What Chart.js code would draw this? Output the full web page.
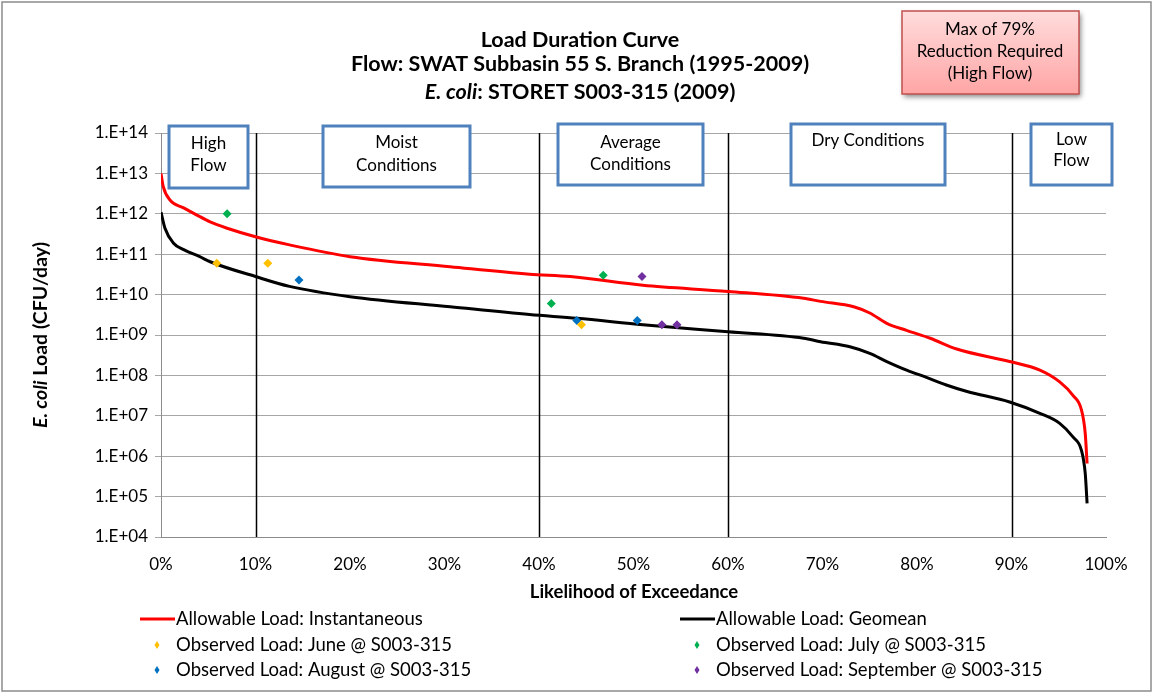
<!DOCTYPE html>
<html>
<head>
<meta charset="utf-8">
<title>Load Duration Curve</title>
<script src="https://cdn.jsdelivr.net/npm/chart.js@4"></script>
<style>
  html, body { margin: 0; padding: 0; background: #fff; }
  #wrap { width: 1153px; height: 693px; position: relative; }
</style>
</head>
<body>
<div id="wrap"><canvas id="ldc" width="1153" height="693"></canvas></div>
<script>
// Allowable load curves (x = % exceedance, y = CFU/day)
const instX = [0, 0.24, 0.95, 2.4, 3.8, 5.2, 7.0, 10, 13.6, 20, 30.6, 39, 43.3, 51, 60, 68, 69.8, 73.3, 75, 76.8, 78.9, 81.4, 84.2, 89.8, 93, 95.1, 96.5, 97.4, 97.8, 98.0];
const instY = [1.0e13, 4.7e12, 2.2e12, 1.4e12, 9.3e11, 6.3e11, 4.4e11, 2.7e11, 1.7e11, 8.7e10, 4.9e10, 3.2e10, 2.8e10, 1.7e10, 1.2e10, 8.1e9, 6.8e9, 5.0e9, 3.5e9, 1.95e9, 1.3e9, 8.3e8, 4.5e8, 2.2e8, 1.35e8, 6.9e7, 3.2e7, 1.4e7, 3.7e6, 6.6e5];
const geoX = [0, 0.42, 1.3, 2.4, 4.1, 5.2, 10, 13.6, 20, 30.6, 39, 44, 51, 60, 68, 69.8, 72.9, 75, 76.8, 78.9, 81, 83.1, 85.3, 89.8, 93, 95.1, 96.5, 97.4, 97.8, 98.0];
const geoY = [1.1e12, 4.4e11, 1.9e11, 1.3e11, 8.7e10, 6.5e10, 2.8e10, 1.6e10, 8.9e9, 5.0e9, 3.2e9, 2.6e9, 1.8e9, 1.2e9, 8.3e8, 6.8e8, 5.1e8, 3.5e8, 2.2e8, 1.35e8, 8.9e7, 5.8e7, 4.0e7, 2.2e7, 1.15e7, 6.5e6, 3.0e6, 1.4e6, 3.8e5, 6.8e4];

// Observed loads at S003-315
const juneX = [5.9, 11.3, 44.5];
const juneY = [6.0e10, 6.0e10, 1.8e9];
const julyX = [7.0, 41.3, 46.8];
const julyY = [1.0e12, 6.0e9, 3.0e10];
const augX = [14.6, 44.0, 50.4];
const augY = [2.3e10, 2.3e9, 2.3e9];
const sepX = [50.9, 53.0, 54.6];
const sepY = [2.8e10, 1.8e9, 1.8e9];

// Axis ticks and flow zone boundaries
const yTicks = [1e4, 1e5, 1e6, 1e7, 1e8, 1e9, 1e10, 1e11, 1e12, 1e13, 1e14];
const yTickLabels = ['1.E+04', '1.E+05', '1.E+06', '1.E+07', '1.E+08', '1.E+09', '1.E+10', '1.E+11', '1.E+12', '1.E+13', '1.E+14'];
const zoneBreaks = [10, 40, 60, 90];

const FONT = 'Lato, "Open Sans", sans-serif';

function pts(xs, ys) {
    return xs.map((x, i) => ({ x: x, y: ys[i] }));
}

function lineSet(label, xs, ys, color) {
    return {
        type: 'line', label: label, data: pts(xs, ys),
        borderColor: color, backgroundColor: color, borderWidth: 3,
        pointRadius: 0, cubicInterpolationMode: 'monotone', order: 2
    };
}

function obsSet(label, xs, ys, color) {
    return {
        type: 'scatter', label: label, data: pts(xs, ys),
        borderColor: color, backgroundColor: color, pointStyle: 'rectRot',
        pointRadius: 4.5, borderWidth: 0, order: 1
    };
}

// Box with centered multi-line text
function textBox(ctx, x, y, w, h, lines, lineY) {
    ctx.save();
    ctx.fillStyle = '#fff';
    ctx.strokeStyle = '#4F81BD';
    ctx.lineWidth = 3;
    ctx.fillRect(x, y, w, h);
    ctx.strokeRect(x, y, w, h);
    ctx.fillStyle = '#000';
    ctx.font = '17px ' + FONT;
    ctx.textAlign = 'center';
    ctx.textBaseline = 'middle';
    lines.forEach((t, i) => ctx.fillText(t, x + w / 2, lineY[i]));
    ctx.restore();
}

// Draws bold text segments [text, italic] centered at cx
function mixedText(ctx, segs, cx, cy, size) {
    let total = 0;
    const widths = segs.map(s => {
        ctx.font = (s[1] ? 'italic ' : '') + 'bold ' + size + 'px ' + FONT;
        const w = ctx.measureText(s[0]).width;
        total += w;
        return w;
    });
    let x = cx - total / 2;
    segs.forEach((s, i) => {
        ctx.font = (s[1] ? 'italic ' : '') + 'bold ' + size + 'px ' + FONT;
        ctx.fillText(s[0], x, cy);
        x += widths[i];
    });
}

const decorPlugin = {
    id: 'decor',
    beforeDatasetsDraw(chart) {
        const ctx = chart.ctx;
        const xs = chart.scales.x;
        const area = chart.chartArea;
        // flow zone dividers
        ctx.save();
        ctx.strokeStyle = '#000';
        ctx.lineWidth = 1.5;
        zoneBreaks.forEach(v => {
            const px = Math.round(xs.getPixelForValue(v)) + 0.5;
            ctx.beginPath();
            ctx.moveTo(px, area.top);
            ctx.lineTo(px, area.bottom);
            ctx.stroke();
        });
        ctx.restore();
    },
    afterDraw(chart) {
        const ctx = chart.ctx;
        ctx.save();
        // outer frame
        ctx.strokeStyle = '#8c8c8c';
        ctx.lineWidth = 1.5;
        ctx.strokeRect(2, 2, 1149, 689);

        // titles
        ctx.fillStyle = '#000';
        ctx.textBaseline = 'middle';
        ctx.textAlign = 'left';
        mixedText(ctx, [['Load Duration Curve', false]], 580, 40, 21.5);
        mixedText(ctx, [['Flow: SWAT Subbasin 55 S. Branch (1995-2009)', false]], 580, 64, 21.5);
        mixedText(ctx, [['E. coli', true], [': STORET S003-315 (2009)', false]], 580, 92, 21.5);

        // y axis title
        ctx.save();
        ctx.translate(41, 335);
        ctx.rotate(-Math.PI / 2);
        mixedText(ctx, [['E. coli', true], [' Load (CFU/day)', false]], 0, 0, 19.5);
        ctx.restore();

        // x axis title
        mixedText(ctx, [['Likelihood of Exceedance', false]], 634, 592, 18.5);

        // zone labels
        textBox(ctx, 169, 126, 79, 62, ['High', 'Flow'], [144, 166]);
        textBox(ctx, 323, 126, 147, 61, ['Moist', 'Conditions'], [143, 166]);
        textBox(ctx, 558, 124, 145, 61, ['Average', 'Conditions'], [143, 165]);
        textBox(ctx, 791, 124, 154, 61, ['Dry Conditions'], [141]);
        textBox(ctx, 1031, 124, 81, 61, ['Low', 'Flow'], [140, 161]);

        // reduction callout
        ctx.save();
        ctx.shadowColor = 'rgba(0,0,0,0.45)';
        ctx.shadowBlur = 5;
        ctx.shadowOffsetX = 2;
        ctx.shadowOffsetY = 3;
        const g = ctx.createLinearGradient(0, 11, 0, 94);
        g.addColorStop(0, '#FFDCDC');
        g.addColorStop(1, '#FFA5A5');
        ctx.fillStyle = g;
        ctx.fillRect(902, 11, 177, 83);
        ctx.restore();
        ctx.strokeStyle = '#C0504D';
        ctx.lineWidth = 1.5;
        ctx.strokeRect(902, 11, 177, 83);
        ctx.fillStyle = '#000';
        ctx.font = '17px ' + FONT;
        ctx.textAlign = 'center';
        ctx.fillText('Max of 79%', 990, 30);
        ctx.fillText('Reduction Required', 990, 52);
        ctx.fillText('(High Flow)', 990, 74);

        // legend
        const items = [
            [chart.data.datasets[0], 140, 619], [chart.data.datasets[1], 680, 619],
            [chart.data.datasets[2], 140, 645], [chart.data.datasets[3], 680, 645],
            [chart.data.datasets[4], 140, 670], [chart.data.datasets[5], 680, 670]
        ];
        ctx.font = '18.5px ' + FONT;
        ctx.textAlign = 'left';
        items.forEach(([ds, x, y]) => {
            ctx.fillStyle = ds.borderColor;
            if (ds.type === 'line') {
                ctx.fillRect(x, y - 1.5, 35, 3);
            } else {
                ctx.beginPath();
                ctx.moveTo(x + 17, y - 4);
                ctx.lineTo(x + 19.5, y);
                ctx.lineTo(x + 17, y + 4);
                ctx.lineTo(x + 14.5, y);
                ctx.closePath();
                ctx.fill();
            }
            ctx.fillStyle = '#000';
            ctx.fillText(ds.label, x + 36, y);
        });
        ctx.restore();
    }
};

new Chart(document.getElementById('ldc'), {
    data: {
        datasets: [
            lineSet('Allowable Load: Instantaneous', instX, instY, '#FF0000'),
            lineSet('Allowable Load: Geomean', geoX, geoY, '#000000'),
            obsSet('Observed Load: June @ S003-315', juneX, juneY, '#FFC000'),
            obsSet('Observed Load: July @ S003-315', julyX, julyY, '#00B050'),
            obsSet('Observed Load: August @ S003-315', augX, augY, '#0070C0'),
            obsSet('Observed Load: September @ S003-315', sepX, sepY, '#7030A0')
        ]
    },
    options: {
        responsive: false,
        animation: false,
        layout: { padding: { top: 133, right: 47, bottom: 0, left: 0 } },
        plugins: {
            legend: { display: false },
            title: { display: false },
            tooltip: { enabled: false }
        },
        scales: {
            x: {
                type: 'linear', min: 0, max: 100,
                afterFit: s => { s.height = 156; },
                ticks: {
                    stepSize: 10, padding: 11, color: '#000',
                    font: { family: FONT, size: 17 },
                    callback: v => v + '%'
                },
                grid: { display: false, drawTicks: true, tickLength: 6 },
                border: { display: true, color: '#8c8c8c', width: 1 }
            },
            y: {
                type: 'logarithmic', min: 1e4, max: 1e14,
                afterFit: s => { s.width = 161; },
                afterBuildTicks: s => { s.ticks = yTicks.map(v => ({ value: v })); },
                ticks: {
                    padding: 7, color: '#000',
                    font: { family: FONT, size: 17 },
                    callback: v => yTickLabels[yTicks.indexOf(v)]
                },
                grid: { color: '#A6A6A6', lineWidth: 1, tickLength: 6 },
                border: { display: true, color: '#8c8c8c', width: 1 }
            }
        }
    },
    plugins: [decorPlugin]
});
</script>
</body>
</html>
